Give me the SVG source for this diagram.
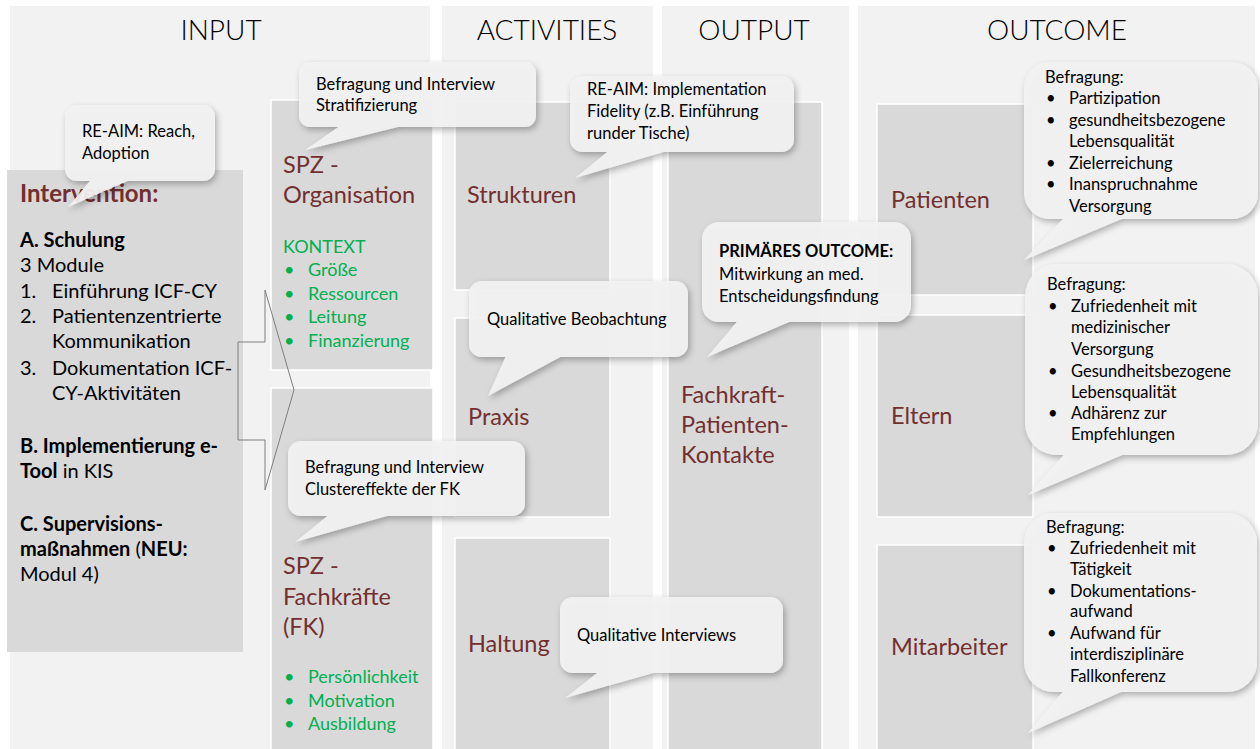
<svg xmlns="http://www.w3.org/2000/svg" width="1260" height="749" viewBox="0 0 1260 749">
<defs>
<filter id="sh" x="-10%" y="-10%" width="125%" height="130%">
<feDropShadow dx="2" dy="3" stdDeviation="3" flood-color="#000" flood-opacity="0.3"/>
</filter>
<style>
text{font-family:Lato,"Liberation Sans",sans-serif;}
.band{fill:#f2f2f2;}
.box{fill:#d9d9d9;stroke:#fff;stroke-width:1.5;}
.hdr{font-size:28px;font-weight:300;fill:#000;text-anchor:middle;}
.head{font-size:23.5px;fill:#722f2f;}
.body{font-size:20px;fill:#000;}
.green{font-size:18px;fill:#00b050;}
.bub{fill:#f2f2f2;fill-opacity:0.93;filter:url(#sh);}
.bt{font-size:16.5px;fill:#000;}
.arrow{fill:none;stroke:#7f7f7f;stroke-width:1;}
</style>
</defs>
<rect width="1260" height="749" fill="#fff"/>
<g id="bands">
<rect class="band" x="10" y="6" width="420" height="743"/>
<rect class="band" x="442" y="6" width="211" height="743"/>
<rect class="band" x="662" y="6" width="187" height="743"/>
<rect class="band" x="858" y="6" width="397" height="743"/>
<text class="hdr" x="221" y="40">INPUT</text>
<text class="hdr" x="547" y="40">ACTIVITIES</text>
<text class="hdr" x="754" y="40">OUTPUT</text>
<text class="hdr" x="1057" y="40">OUTCOME</text>
</g>
<g id="intervention">
<rect x="7" y="170" width="236" height="482" fill="#d9d9d9"/>
<text x="20" y="202" font-size="24" font-weight="bold" fill="#722f2f">Intervention:</text>
<text class="body" x="20" y="247" font-weight="bold">A. Schulung</text>
<text class="body" x="20" y="272">3 Module</text>
<text class="body" x="20" y="298">1.</text><text class="body" x="52" y="298">Einführung ICF-CY</text>
<text class="body" x="20" y="323">2.</text><text class="body" x="52" y="323">Patientenzentrierte</text>
<text class="body" x="52" y="348">Kommunikation</text>
<text class="body" x="20" y="375">3.</text><text class="body" x="52" y="375">Dokumentation ICF-</text>
<text class="body" x="52" y="400">CY-Aktivitäten</text>
<text class="body" x="20" y="453" font-weight="bold">B. Implementierung e-</text>
<text class="body" x="20" y="478"><tspan font-weight="bold">Tool</tspan> in KIS</text>
<text class="body" x="20" y="531" font-weight="bold">C. Supervisions-</text>
<text class="body" x="20" y="556"><tspan font-weight="bold">maßnahmen</tspan> (<tspan font-weight="bold">NEU:</tspan></text>
<text class="body" x="20" y="581">Modul 4)</text>
</g>
<g id="spz-organisation">
<rect class="box" x="271" y="100" width="162" height="270"/>
<text class="head" x="283" y="173">SPZ -</text>
<text class="head" x="283" y="203">Organisation</text>
<text class="green" x="283" y="253">KONTEXT</text>
<text class="green" x="284" y="276">•</text><text class="green" x="308" y="276">Größe</text>
<text class="green" x="284" y="300">•</text><text class="green" x="308" y="300">Ressourcen</text>
<text class="green" x="284" y="323">•</text><text class="green" x="308" y="323">Leitung</text>
<text class="green" x="284" y="347">•</text><text class="green" x="308" y="347">Finanzierung</text>
</g>
<g id="spz-fachkraefte">
<rect class="box" x="271" y="388" width="162" height="365"/>
<text class="head" x="283" y="574">SPZ -</text>
<text class="head" x="283" y="605">Fachkräfte</text>
<text class="head" x="283" y="635">(FK)</text>
<text class="green" x="284" y="683">•</text><text class="green" x="308" y="683">Persönlichkeit</text>
<text class="green" x="284" y="707">•</text><text class="green" x="308" y="707">Motivation</text>
<text class="green" x="284" y="730">•</text><text class="green" x="308" y="730">Ausbildung</text>
</g>
<g id="strukturen">
<rect class="box" x="455" y="102" width="155" height="188"/>
<text class="head" x="467" y="203">Strukturen</text>
</g>
<g id="praxis">
<rect class="box" x="455" y="318" width="155" height="199"/>
<text class="head" x="468" y="425">Praxis</text>
</g>
<g id="haltung">
<rect class="box" x="455" y="538" width="155" height="215"/>
<text class="head" x="468" y="652">Haltung</text>
</g>
<g id="kontakte">
<rect class="box" x="668" y="102" width="154" height="651"/>
<text class="head" x="681" y="403">Fachkraft-</text>
<text class="head" x="681" y="433">Patienten-</text>
<text class="head" x="681" y="463">Kontakte</text>
</g>
<g id="patienten">
<rect class="box" x="877" y="104" width="156" height="191"/>
<text class="head" x="891" y="208">Patienten</text>
</g>
<g id="eltern">
<rect class="box" x="877" y="315" width="156" height="202"/>
<text class="head" x="891" y="424">Eltern</text>
</g>
<g id="mitarbeiter">
<rect class="box" x="877" y="545" width="156" height="208"/>
<text class="head" x="891" y="655">Mitarbeiter</text>
</g>
<g id="connectors">
<polygon class="arrow" points="238,342 265,342 265,290 294,390 265,490 265,440 238,440"/>
</g>
<g id="callout-reach">
<path class="bub" d="M77,105 H203 A12,12 0 0 1 215,117 V169 A12,12 0 0 1 203,181 H127.5 L68,207 L90,181 H77 A12,12 0 0 1 65,169 V117 A12,12 0 0 1 77,105 Z"/>
<text class="bt" x="82" y="137">RE-AIM: Reach,</text>
<text class="bt" x="82" y="159">Adoption</text>
</g>
<g id="callout-stratifizierung">
<path class="bub" d="M310,62 H525 A11,11 0 0 1 536,73 V116 A11,11 0 0 1 525,127 H397.8 L305,150 L338.5,127 H310 A11,11 0 0 1 299,116 V73 A11,11 0 0 1 310,62 Z"/>
<text class="bt" x="316" y="90">Befragung und Interview</text>
<text class="bt" x="316" y="111">Stratifizierung</text>
</g>
<g id="callout-fidelity">
<path class="bub" d="M582.5,76 H781.5 A12.5,12.5 0 0 1 794,88.5 V139.5 A12.5,12.5 0 0 1 781.5,152 H663.3 L575,178 L607.3,152 H582.5 A12.5,12.5 0 0 1 570,139.5 V88.5 A12.5,12.5 0 0 1 582.5,76 Z"/>
<text class="bt" x="587" y="95">RE-AIM: Implementation</text>
<text class="bt" x="587" y="117">Fidelity (z.B. Einführung</text>
<text class="bt" x="587" y="139">runder Tische)</text>
</g>
<g id="callout-primaer">
<path class="bub" d="M718.7,222 H894.3 A16.7,16.7 0 0 1 911,238.7 V305.3 A16.7,16.7 0 0 1 894.3,322 H789.1 L707,357 L736.8,322 H718.7 A16.7,16.7 0 0 1 702,305.3 V238.7 A16.7,16.7 0 0 1 718.7,222 Z"/>
<text class="bt" x="719" y="257" font-weight="bold">PRIMÄRES OUTCOME:</text>
<text class="bt" x="719" y="280">Mitwirkung an med.</text>
<text class="bt" x="719" y="302">Entscheidungsfindung</text>
</g>
<g id="callout-beobachtung">
<path class="bub" d="M481.5,281 H675.5 A12.5,12.5 0 0 1 688,293.5 V344.5 A12.5,12.5 0 0 1 675.5,357 H560.3 L488,396 L505.5,357 H481.5 A12.5,12.5 0 0 1 469,344.5 V293.5 A12.5,12.5 0 0 1 481.5,281 Z"/>
<text class="bt" x="487" y="325">Qualitative Beobachtung</text>
</g>
<g id="callout-cluster">
<path class="bub" d="M300.5,441 H512.5 A12.5,12.5 0 0 1 525,453.5 V503.5 A12.5,12.5 0 0 1 512.5,516 H386.8 L295,542 L327.5,516 H300.5 A12.5,12.5 0 0 1 288,503.5 V453.5 A12.5,12.5 0 0 1 300.5,441 Z"/>
<text class="bt" x="305" y="473">Befragung und Interview</text>
<text class="bt" x="305" y="495">Clustereffekte der FK</text>
</g>
<g id="callout-interviews">
<path class="bub" d="M572.5,597 H770.5 A12.5,12.5 0 0 1 783,609.5 V660.5 A12.5,12.5 0 0 1 770.5,673 H652.9 L565,698 L597.2,673 H572.5 A12.5,12.5 0 0 1 560,660.5 V609.5 A12.5,12.5 0 0 1 572.5,597 Z"/>
<text class="bt" x="577" y="641">Qualitative Interviews</text>
</g>
<g id="callout-patienten">
<path class="bub" d="M1050,62 H1232 A26,26 0 0 1 1258,88 V193 A26,26 0 0 1 1232,219 H1121.5 L1024,260 L1063,219 H1050 A26,26 0 0 1 1024,193 V88 A26,26 0 0 1 1050,62 Z"/>
<text class="bt" x="1045" y="83">Befragung:</text>
<text class="bt" x="1046" y="104">•</text><text class="bt" x="1069" y="104">Partizipation</text>
<text class="bt" x="1046" y="126">•</text><text class="bt" x="1069" y="126">gesundheitsbezogene</text>
<text class="bt" x="1069" y="147">Lebensqualität</text>
<text class="bt" x="1046" y="169">•</text><text class="bt" x="1069" y="169">Zielerreichung</text>
<text class="bt" x="1046" y="190">•</text><text class="bt" x="1069" y="190">Inanspruchnahme</text>
<text class="bt" x="1069" y="212">Versorgung</text>
</g>
<g id="callout-eltern">
<path class="bub" d="M1057,264 H1226 A32,32 0 0 1 1258,296 V423 A32,32 0 0 1 1226,455 H1122 L1028,495 L1063.8,455 H1057 A32,32 0 0 1 1025,423 V296 A32,32 0 0 1 1057,264 Z"/>
<text class="bt" x="1047" y="290">Befragung:</text>
<text class="bt" x="1048" y="312">•</text><text class="bt" x="1071" y="312">Zufriedenheit mit</text>
<text class="bt" x="1071" y="333">medizinischer</text>
<text class="bt" x="1071" y="355">Versorgung</text>
<text class="bt" x="1048" y="377">•</text><text class="bt" x="1071" y="377">Gesundheitsbezogene</text>
<text class="bt" x="1071" y="398">Lebensqualität</text>
<text class="bt" x="1048" y="419">•</text><text class="bt" x="1071" y="419">Adhärenz zur</text>
<text class="bt" x="1071" y="440">Empfehlungen</text>
</g>
<g id="callout-mitarbeiter">
<path class="bub" d="M1054,513 H1227 A30,30 0 0 1 1257,543 V662 A30,30 0 0 1 1227,692 H1121 L1028,733 L1062.8,692 H1054 A30,30 0 0 1 1024,662 V543 A30,30 0 0 1 1054,513 Z"/>
<text class="bt" x="1046" y="533">Befragung:</text>
<text class="bt" x="1047" y="554">•</text><text class="bt" x="1070" y="554">Zufriedenheit mit</text>
<text class="bt" x="1070" y="575">Tätigkeit</text>
<text class="bt" x="1047" y="597">•</text><text class="bt" x="1070" y="597">Dokumentations-</text>
<text class="bt" x="1070" y="617">aufwand</text>
<text class="bt" x="1047" y="639">•</text><text class="bt" x="1070" y="639">Aufwand für</text>
<text class="bt" x="1070" y="660">interdisziplinäre</text>
<text class="bt" x="1070" y="682">Fallkonferenz</text>
</g>
</svg>
